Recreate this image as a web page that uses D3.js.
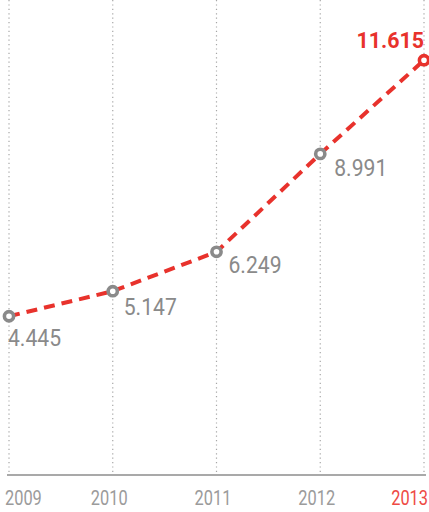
<!DOCTYPE html>
<html>
<head>
<meta charset="utf-8">
<script src="https://cdn.jsdelivr.net/npm/d3@7"></script>
<style>
  html, body { margin: 0; padding: 0; background: #fff; }
  svg { display: block; }
  text { font-family: "Roboto", "Noto Sans", sans-serif; }
</style>
</head>
<body>
<svg id="chart" width="429" height="512"></svg>
<script>
// Yearly figures
const years = ["2009", "2010", "2011", "2012", "2013"];
const values = [4.445, 5.147, 6.249, 8.991, 11.615];
const valueLabels = ["4.445", "5.147", "6.249", "8.991", "11.615"];

// Placement of each value label relative to its point
const labelOffsets = [
  { dx: -1, dy: 30, anchor: "start" },
  { dx: 11, dy: 24, anchor: "start" },
  { dx: 12, dy: 21, anchor: "start" },
  { dx: 14, dy: 22, anchor: "start" },
  { dx: 0,  dy: -12, anchor: "end" }
];

const red = "#e8322c";
const grey = "#8a8a8a";

const svg = d3.select("#chart");
const baseY = 475;

const x = d3.scalePoint().domain(years).range([9, 424]);
const y = d3.scaleLinear().domain([0, 13.3]).range([baseY, 0]);

// Condensed look: squeeze text horizontally around its anchor point
function squeeze(sel, fx, fy, k) {
  sel.attr("x", 0).attr("y", 0)
     .attr("transform", (d, i) => `translate(${fx(d, i)},${fy(d, i)}) scale(${k},1)`);
}

// Dotted vertical gridlines
svg.append("g").selectAll("line")
  .data(years).join("line")
  .attr("x1", d => x(d)).attr("x2", d => x(d))
  .attr("y1", 0).attr("y2", baseY)
  .attr("stroke", "#a6a6a6").attr("stroke-width", 1.2)
  .attr("stroke-dasharray", "1.2,3.2");

// Baseline
svg.append("line")
  .attr("x1", 7).attr("x2", 426)
  .attr("y1", baseY).attr("y2", baseY)
  .attr("stroke", "#8c8c8c").attr("stroke-width", 1.5);

// Year labels along the bottom
svg.append("g").selectAll("text")
  .data(years).join("text")
  .attr("text-anchor", (d, i) => i === 0 ? "start" : i === years.length - 1 ? "end" : "middle")
  .attr("font-size", 20)
  .attr("fill", (d, i) => i === years.length - 1 ? "#ee4a44" : "#9b9b9b")
  .text(d => d)
  .call(squeeze,
        (d, i) => i === 0 ? 5 : i === years.length - 1 ? 428 : x(d) - 3.5,
        () => 505, 0.82);

const pts = years.map((yr, i) => ({ yr, v: values[i], label: valueLabels[i], off: labelOffsets[i], last: i === years.length - 1 }));

// Dashed trend line
const line = d3.line().x(d => x(d.yr)).y(d => y(d.v));
svg.append("path")
  .datum(pts)
  .attr("d", line)
  .attr("fill", "none")
  .attr("stroke", red)
  .attr("stroke-width", 4)
  .attr("stroke-dasharray", "11,7");

// Point markers
svg.append("g").selectAll("circle")
  .data(pts).join("circle")
  .attr("cx", d => x(d.yr)).attr("cy", d => y(d.v))
  .attr("r", 4.6)
  .attr("fill", "#fff")
  .attr("stroke", d => d.last ? red : grey)
  .attr("stroke-width", 3.6);

// Value labels
svg.append("g").selectAll("text")
  .data(pts).join("text")
  .attr("text-anchor", d => d.off.anchor)
  .attr("font-size", d => d.last ? 22.5 : 24)
  .attr("font-weight", d => d.last ? "bold" : "normal")
  .attr("fill", d => d.last ? red : grey)
  .text(d => d.label)
  .each(function (d) {
    const k = d.last ? 0.95 : 0.88;
    d3.select(this)
      .attr("x", 0).attr("y", 0)
      .attr("transform", `translate(${x(d.yr) + d.off.dx},${y(d.v) + d.off.dy}) scale(${k},1)`);
  });
</script>
</body>
</html>
